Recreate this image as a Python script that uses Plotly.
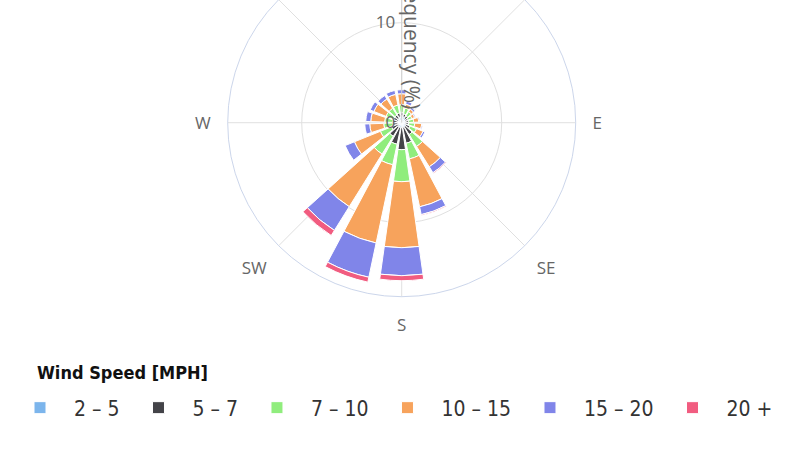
import plotly.graph_objects as go

# Direction bins (degrees, clockwise from north)
directions = [0, 20, 40, 60, 80, 100, 120, 140, 160, 180, 200, 220, 240, 260, 280, 300, 320, 340]

# Frequency (%) per wind-speed class, per direction
speed_2_5   = [0.7, 0.6, 0.5, 0.4, 0.4, 0.4, 0.4, 0.5, 0.5, 0.5, 0.5, 0.5, 0.4, 0.4, 0.4, 0.4, 0.5, 0.6]
speed_5_7   = [0.3, 0.3, 0.3, 0.3, 0.3, 0.3, 0.5, 0.9, 1.6, 2.2, 1.7, 1.1, 0.7, 0.5, 0.5, 0.5, 0.4, 0.4]
speed_7_10  = [0.8, 0.6, 0.5, 0.4, 0.5, 0.6, 0.7, 1.4, 1.6, 3.2, 2.1, 2.1, 1.2, 0.9, 0.8, 0.8, 0.8, 0.8]
speed_10_15 = [1.1, 0.4, 0.3, 0.3, 0.5, 0.7, 0.7, 2.4, 4.9, 6.6, 8.0, 6.2, 2.8, 1.4, 1.4, 1.3, 1.1, 1.1]
speed_15_20 = [0.4, 0.3, 0.2, 0.1, 0.1, 0.1, 0.2, 0.7, 0.8, 2.8, 3.5, 2.8, 1.0, 0.5, 0.5, 0.4, 0.4, 0.4]
speed_20_up = [0.0, 0.0, 0.0, 0.0, 0.0, 0.0, 0.0, 0.1, 0.1, 0.5, 0.5, 0.6, 0.0, 0.0, 0.0, 0.0, 0.0, 0.0]

series_names = ["2 – 5", "5 – 7", "7 – 10", "10 – 15", "15 – 20", "20 +"]
series_values = [speed_2_5, speed_5_7, speed_7_10, speed_10_15, speed_15_20, speed_20_up]
series_colors = ["#7cb5ec", "#434348", "#90ed7d", "#f7a35c", "#8085e9", "#f15c80"]

compass_vals = [0, 45, 90, 135, 180, 225, 270, 315]
compass_text = ["N", "NE", "E", "SE", "S", "SW", "W", "NW"]
radial_ticks = [0, 10]
radial_max = 17.4

SHIFT = 60
W, H = 800, 450 + SHIFT

fig = go.Figure()
for name, vals, col in zip(series_names, series_values, series_colors):
    fig.add_trace(go.Barpolar(
        r=vals, theta=directions, name=name, width=16,
        marker=dict(color=col, line=dict(color="white", width=1)),
    ))

cx, cy, rad = 401.7, 122.7 + SHIFT, 174
fig.update_layout(
    width=W, height=H,
    margin=dict(l=0, r=0, t=0, b=0),
    paper_bgcolor="white",
    font=dict(family="Open Sans", color="#666666", size=17),
    polar=dict(
        domain=dict(x=[(cx - rad) / W, (cx + rad) / W], y=[(H - cy - rad) / H, (H - cy + rad) / H]),
        bgcolor="white",
        barmode="stack",
        angularaxis=dict(
            direction="clockwise", rotation=90,
            tickmode="array", tickvals=compass_vals, ticktext=compass_text,
            ticks="outside", ticklen=13, tickcolor="rgba(0,0,0,0)",
            showline=True, linecolor="#ccd6eb", linewidth=1,
            gridcolor="#e0e0e0", gridwidth=1,
            tickfont=dict(size=17, color="#666666"),
        ),
        radialaxis=dict(
            range=[0, radial_max], angle=90, tickangle=90,
            tickmode="array", tickvals=radial_ticks,
            showline=True, linecolor="#d0d0d0", linewidth=1,
            gridcolor="#e0e0e0", gridwidth=1,
            tickfont=dict(size=17, color="#666666"),
            side="counterclockwise",
        ),
    ),
    legend=dict(
        orientation="h", x=6 / W, xanchor="left", y=1 - (408 + SHIFT) / H, yanchor="middle",
        font=dict(family="DejaVu Sans Condensed", size=21, color="#333333"),
        itemwidth=58,
        traceorder="normal",
    ),
    annotations=[
        dict(
            text="Frequency (%)", textangle=90, showarrow=False,
            xref="paper", yref="paper", x=412 / W, y=1 - (40 + SHIFT) / H,
            xanchor="center", yanchor="middle",
            font=dict(size=21, color="#666666"),
        ),
        dict(
            text="<b>Wind Speed [MPH]</b>", showarrow=False,
            xref="paper", yref="paper", x=35 / W, y=1 - (372 + SHIFT) / H,
            xanchor="left", yanchor="middle",
            font=dict(family="DejaVu Sans Condensed", size=18, color="#111111"),
        ),
    ],
)

post = ("document.body.style.margin='0';"
        "var d=document.getElementById('{plot_id}');"
        "d.style.marginTop='-%dpx';" % SHIFT)
fig.write_html("out.html", post_script=post)
